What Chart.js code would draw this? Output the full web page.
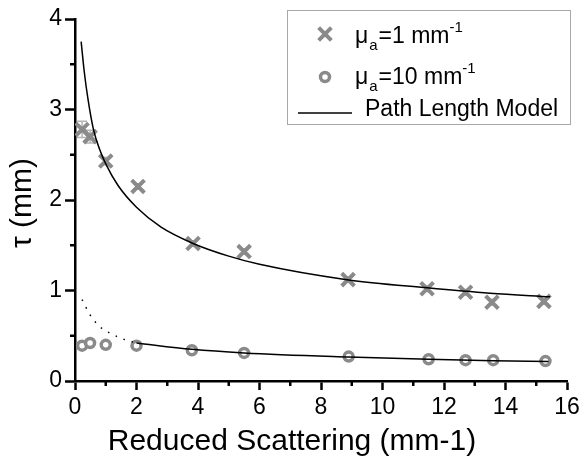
<!DOCTYPE html>
<html>
<head>
<meta charset="utf-8">
<script src="https://cdn.jsdelivr.net/npm/chart.js@4/dist/chart.umd.min.js"></script>
<style>
  html, body { margin: 0; padding: 0; background: #fff; }
  #wrap { width: 588px; height: 461px; }
</style>
</head>
<body>
<div id="wrap"><canvas id="chart" width="588" height="461"></canvas></div>
<script>
// measured points, mu_a = 1 mm-1
const xCross = [0.23, 0.49, 1.0, 2.05, 3.84, 5.5, 8.88, 11.45, 12.7, 13.56, 15.25];
const yCross = [2.78, 2.70, 2.43, 2.15, 1.52, 1.43, 1.12, 1.02, 0.98, 0.87, 0.88];
const errCross = [0.09, 0.07, 0.04, 0.03, 0.03, 0.03, 0.03, 0.03, 0.03, 0.03, 0.03];

// measured points, mu_a = 10 mm-1
const xCircle = [0.23, 0.49, 1.0, 2.0, 3.8, 5.5, 8.9, 11.5, 12.7, 13.6, 15.3];
const yCircle = [0.39, 0.42, 0.40, 0.39, 0.34, 0.31, 0.27, 0.24, 0.23, 0.23, 0.22];

// path length model curves
const xModel1 = [0.2, 0.3, 0.42, 0.6, 0.8, 1.0, 1.4, 2.0, 2.8, 3.84, 5.0, 6.0, 8.84, 11.45, 13.5, 15.45];
const yModel1 = [3.75, 3.42, 3.12, 2.78, 2.56, 2.40, 2.16, 1.92, 1.70, 1.52, 1.38, 1.29, 1.12, 1.03, 0.97, 0.93];
const xModel2 = [2.0, 3.8, 5.5, 8.9, 11.5, 13.6, 15.4];
const yModel2 = [0.42, 0.35, 0.31, 0.265, 0.24, 0.225, 0.215];
const xModel2Dot = [0.23, 0.49, 0.69, 0.92, 1.2, 1.43, 1.69, 2.0];
const yModel2Dot = [0.90, 0.73, 0.64, 0.57, 0.52, 0.48, 0.45, 0.42];

// tick positions
const minorX = [1, 3, 5, 7, 9, 11, 13, 15];
const minorY = [0.5, 1.5, 2.5, 3.5];

const FONT = "'Liberation Sans', Arial, sans-serif";
const GREY = "#8a8a8a";

const pts = (xs, ys) => xs.map((x, i) => ({ x: x, y: ys[i] }));

const extras = {
  id: "extras",
  beforeDatasetsDraw(chart) {
    const { ctx, scales: { x, y } } = chart;
    ctx.save();
    ctx.strokeStyle = "#b4b4b4";
    ctx.lineWidth = 1.5;
    xCross.forEach((xv, i) => {
      const px = x.getPixelForValue(xv);
      const y1 = y.getPixelForValue(yCross[i] - errCross[i]);
      const y2 = y.getPixelForValue(yCross[i] + errCross[i]);
      ctx.beginPath();
      ctx.moveTo(px, y1); ctx.lineTo(px, y2);
      ctx.moveTo(px - 5, y1); ctx.lineTo(px + 5, y1);
      ctx.moveTo(px - 5, y2); ctx.lineTo(px + 5, y2);
      ctx.stroke();
    });
    ctx.restore();
  },
  afterDraw(chart) {
    const { ctx, chartArea: a, scales: { x, y } } = chart;
    ctx.save();
    // minor ticks
    ctx.strokeStyle = "#000";
    ctx.lineWidth = 2.5;
    ctx.beginPath();
    minorY.forEach(v => {
      const py = y.getPixelForValue(v);
      ctx.moveTo(a.left - 5, py); ctx.lineTo(a.left, py);
    });
    minorX.forEach(v => {
      const px = x.getPixelForValue(v);
      ctx.moveTo(px, a.bottom); ctx.lineTo(px, a.bottom + 5);
    });
    ctx.stroke();

    // axis titles
    ctx.fillStyle = "#000";
    ctx.font = "30px " + FONT;
    ctx.textAlign = "center";
    ctx.textBaseline = "alphabetic";
    ctx.fillText("Reduced Scattering (mm-1)", 292, 450);
    ctx.save();
    ctx.translate(31, (a.top + a.bottom) / 2 + 3);
    ctx.rotate(-Math.PI / 2);
    ctx.fillText("τ (mm)", 0, 0);
    ctx.restore();

    // legend
    ctx.strokeStyle = "#a8a8a8";
    ctx.lineWidth = 1;
    ctx.strokeRect(287.5, 10.5, 283, 114);
    const ds = chart.data.datasets;
    const cross = ds.find(d => d.id === "c1");
    const circ = ds.find(d => d.id === "c10");
    ctx.strokeStyle = GREY; ctx.fillStyle = "#fff";
    ctx.lineWidth = cross.borderWidth;
    Chart.helpers.drawPoint(ctx, { pointStyle: cross.pointStyle, radius: cross.pointRadius, borderWidth: cross.borderWidth }, 325, 34);
    ctx.lineWidth = circ.borderWidth;
    Chart.helpers.drawPoint(ctx, { pointStyle: circ.pointStyle, radius: circ.pointRadius, borderWidth: circ.borderWidth }, 325, 77);
    ctx.strokeStyle = "#000"; ctx.lineWidth = 1.5;
    ctx.beginPath(); ctx.moveTo(298, 113); ctx.lineTo(352, 113); ctx.stroke();

    ctx.fillStyle = "#000";
    ctx.textAlign = "left";
    const muLabel = (val, by) => {
      let cx = 355;
      ctx.font = "23px " + FONT;
      ctx.fillText("μ", cx, by);
      cx += ctx.measureText("μ").width + 1;
      ctx.font = "15px " + FONT;
      ctx.fillText("a", cx, by + 7);
      cx += ctx.measureText("a").width + 1;
      ctx.font = "23px " + FONT;
      const t = "=" + val + " mm";
      ctx.fillText(t, cx, by);
      cx += ctx.measureText(t).width;
      ctx.font = "15px " + FONT;
      ctx.fillText("-1", cx, by - 11);
    };
    muLabel("1", 43);
    muLabel("10", 84);
    ctx.font = "23px " + FONT;
    ctx.fillText(ds.find(d => d.id === "model").label, 365, 116);
    ctx.restore();
  }
};

new Chart(document.getElementById("chart"), {
  type: "scatter",
  data: {
    datasets: [
      {
        id: "model", label: "Path Length Model", data: pts(xModel1, yModel1),
        showLine: true, borderColor: "#000", borderWidth: 1.5, pointRadius: 0,
        tension: 0.4, cubicInterpolationMode: "monotone", order: 1
      },
      {
        id: "model2", label: "Path Length Model", data: pts(xModel2, yModel2),
        showLine: true, borderColor: "#000", borderWidth: 1.5, pointRadius: 0,
        tension: 0.4, cubicInterpolationMode: "monotone", order: 1
      },
      {
        id: "model2dot", label: "Path Length Model", data: pts(xModel2Dot, yModel2Dot),
        showLine: true, borderColor: "#000", borderWidth: 1.5, borderDash: [1.5, 7], pointRadius: 0,
        tension: 0.4, cubicInterpolationMode: "monotone", order: 1
      },
      {
        id: "c1", label: "μa=1 mm-1", data: pts(xCross, yCross),
        pointStyle: "crossRot", pointRadius: 9, borderWidth: 4,
        borderColor: GREY, backgroundColor: GREY, order: 2
      },
      {
        id: "c10", label: "μa=10 mm-1", data: pts(xCircle, yCircle),
        pointStyle: "circle", pointRadius: 4.5, borderWidth: 3.5,
        borderColor: GREY, backgroundColor: "#fff", order: 2
      }
    ]
  },
  options: {
    responsive: false,
    animation: false,
    events: [],
    layout: { padding: { top: 19, right: 21, left: 0, bottom: 0 } },
    plugins: { legend: { display: false }, tooltip: { enabled: false } },
    scales: {
      x: {
        type: "linear", min: 0, max: 16,
        afterFit: s => { s.height = 80; },
        ticks: { stepSize: 2, color: "#000", font: { family: FONT, size: 23 }, padding: 4, maxRotation: 0 },
        grid: { drawOnChartArea: false, drawTicks: true, tickLength: 9, tickWidth: 2.5, tickColor: "#000" },
        border: { display: true, color: "#000", width: 2.5 }
      },
      y: {
        type: "linear", min: 0, max: 4,
        afterFit: s => { s.width = 75; },
        ticks: { stepSize: 1, color: "#000", font: { family: FONT, size: 23 }, padding: 3 },
        grid: { drawOnChartArea: false, drawTicks: true, tickLength: 10, tickWidth: 2.5, tickColor: "#000" },
        border: { display: true, color: "#000", width: 2.5 }
      }
    }
  },
  plugins: [extras]
});
</script>
</body>
</html>
